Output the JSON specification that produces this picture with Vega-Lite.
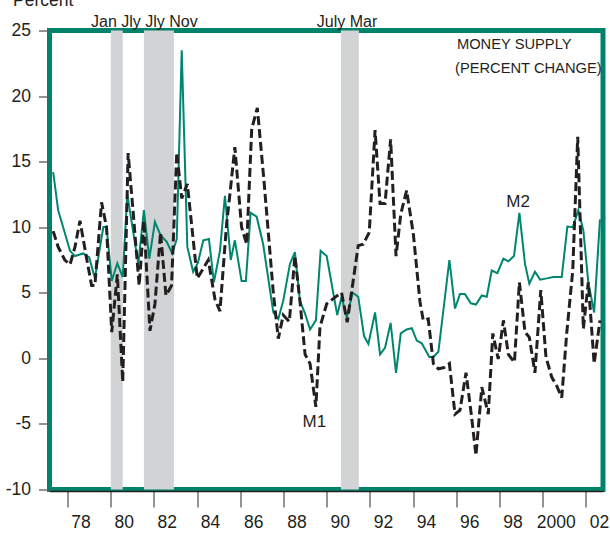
{
  "$schema": "https://vega.github.io/schema/vega-lite/v6.json",
  "autosize": {"type": "none"},
  "padding": {"left": 49.5, "top": 30.5, "right": 7, "bottom": 45.5},
  "width": 553.5,
  "height": 459,
  "background": "white",
  "config": {
    "font": "Liberation Sans, Arial, sans-serif",
    "view": {"stroke": "#00836b", "strokeWidth": 5},
    "axis": {"grid": false, "labelFont": "Liberation Sans, sans-serif", "labelColor": "#231f20", "labelFontSize": 17.5, "tickColor": "#58595b", "tickWidth": 1.3}
  },
  "datasets": {
    "recessions": [
      {"start": 1980.01, "end": 1980.56},
      {"start": 1981.54, "end": 1982.93},
      {"start": 1990.66, "end": 1991.49}
    ],
    "money": [
      {"s": "M2", "t": 1977.34, "v": 14.2},
      {"s": "M2", "t": 1977.57, "v": 11.3},
      {"s": "M2", "t": 1978.12, "v": 8.2},
      {"s": "M2", "t": 1978.35, "v": 7.8},
      {"s": "M2", "t": 1978.73, "v": 8.0},
      {"s": "M2", "t": 1979.01, "v": 7.7},
      {"s": "M2", "t": 1979.27, "v": 6.1},
      {"s": "M2", "t": 1979.66, "v": 10.0},
      {"s": "M2", "t": 1979.81, "v": 10.05},
      {"s": "M2", "t": 1980.05, "v": 5.9},
      {"s": "M2", "t": 1980.31, "v": 7.25},
      {"s": "M2", "t": 1980.56, "v": 6.2},
      {"s": "M2", "t": 1980.77, "v": 12.5},
      {"s": "M2", "t": 1981.28, "v": 7.2},
      {"s": "M2", "t": 1981.54, "v": 11.3},
      {"s": "M2", "t": 1981.79, "v": 7.6},
      {"s": "M2", "t": 1982.05, "v": 10.4},
      {"s": "M2", "t": 1982.31, "v": 9.4},
      {"s": "M2", "t": 1982.59, "v": 8.9},
      {"s": "M2", "t": 1982.85, "v": 8.0},
      {"s": "M2", "t": 1983.06, "v": 9.1},
      {"s": "M2", "t": 1983.29, "v": 23.5},
      {"s": "M2", "t": 1983.55, "v": 8.5},
      {"s": "M2", "t": 1983.82, "v": 6.6},
      {"s": "M2", "t": 1984.04, "v": 7.3},
      {"s": "M2", "t": 1984.29, "v": 9.0},
      {"s": "M2", "t": 1984.55, "v": 9.1},
      {"s": "M2", "t": 1984.78, "v": 5.8},
      {"s": "M2", "t": 1985.06, "v": 8.2},
      {"s": "M2", "t": 1985.29, "v": 12.4},
      {"s": "M2", "t": 1985.56, "v": 7.5},
      {"s": "M2", "t": 1985.75, "v": 9.0},
      {"s": "M2", "t": 1986.06, "v": 5.9},
      {"s": "M2", "t": 1986.26, "v": 5.9},
      {"s": "M2", "t": 1986.48, "v": 11.1},
      {"s": "M2", "t": 1986.76, "v": 10.8},
      {"s": "M2", "t": 1987.06, "v": 8.7},
      {"s": "M2", "t": 1987.53, "v": 3.5},
      {"s": "M2", "t": 1987.76, "v": 3.0},
      {"s": "M2", "t": 1987.99, "v": 4.4},
      {"s": "M2", "t": 1988.30, "v": 7.2},
      {"s": "M2", "t": 1988.53, "v": 8.1},
      {"s": "M2", "t": 1988.76, "v": 4.4},
      {"s": "M2", "t": 1989.00, "v": 3.4},
      {"s": "M2", "t": 1989.23, "v": 2.2},
      {"s": "M2", "t": 1989.50, "v": 2.9},
      {"s": "M2", "t": 1989.72, "v": 8.2},
      {"s": "M2", "t": 1990.00, "v": 7.8},
      {"s": "M2", "t": 1990.49, "v": 3.3},
      {"s": "M2", "t": 1990.69, "v": 4.7},
      {"s": "M2", "t": 1990.93, "v": 3.1},
      {"s": "M2", "t": 1991.20, "v": 5.0},
      {"s": "M2", "t": 1991.46, "v": 4.7},
      {"s": "M2", "t": 1991.73, "v": 1.7},
      {"s": "M2", "t": 1991.93, "v": 1.1},
      {"s": "M2", "t": 1992.24, "v": 3.5},
      {"s": "M2", "t": 1992.47, "v": 0.3},
      {"s": "M2", "t": 1992.70, "v": 0.8},
      {"s": "M2", "t": 1992.96, "v": 2.7},
      {"s": "M2", "t": 1993.21, "v": -1.1},
      {"s": "M2", "t": 1993.43, "v": 1.9},
      {"s": "M2", "t": 1993.70, "v": 2.2},
      {"s": "M2", "t": 1993.94, "v": 2.3},
      {"s": "M2", "t": 1994.17, "v": 1.35},
      {"s": "M2", "t": 1994.40, "v": 1.15},
      {"s": "M2", "t": 1994.75, "v": 0.1},
      {"s": "M2", "t": 1994.94, "v": 0.1},
      {"s": "M2", "t": 1995.17, "v": 0.5},
      {"s": "M2", "t": 1995.68, "v": 7.5},
      {"s": "M2", "t": 1995.94, "v": 3.8},
      {"s": "M2", "t": 1996.17, "v": 4.9},
      {"s": "M2", "t": 1996.40, "v": 4.9},
      {"s": "M2", "t": 1996.67, "v": 4.2},
      {"s": "M2", "t": 1996.91, "v": 4.1},
      {"s": "M2", "t": 1997.18, "v": 4.8},
      {"s": "M2", "t": 1997.41, "v": 4.7},
      {"s": "M2", "t": 1997.64, "v": 6.7},
      {"s": "M2", "t": 1997.90, "v": 6.5},
      {"s": "M2", "t": 1998.18, "v": 7.6},
      {"s": "M2", "t": 1998.41, "v": 7.4},
      {"s": "M2", "t": 1998.67, "v": 7.8},
      {"s": "M2", "t": 1998.92, "v": 11.1},
      {"s": "M2", "t": 1999.18, "v": 7.2},
      {"s": "M2", "t": 1999.38, "v": 5.7},
      {"s": "M2", "t": 1999.64, "v": 6.6},
      {"s": "M2", "t": 1999.88, "v": 6.0},
      {"s": "M2", "t": 2000.19, "v": 6.1},
      {"s": "M2", "t": 2000.49, "v": 6.2},
      {"s": "M2", "t": 2000.88, "v": 6.2},
      {"s": "M2", "t": 2001.14, "v": 10.05},
      {"s": "M2", "t": 2001.39, "v": 10.0},
      {"s": "M2", "t": 2001.65, "v": 11.3},
      {"s": "M2", "t": 2001.88, "v": 9.75},
      {"s": "M2", "t": 2002.11, "v": 5.8},
      {"s": "M2", "t": 2002.38, "v": 3.5},
      {"s": "M2", "t": 2002.65, "v": 10.6},
      {"s": "M1", "t": 1977.34, "v": 9.7},
      {"s": "M1", "t": 1977.57, "v": 8.5},
      {"s": "M1", "t": 1977.88, "v": 7.5},
      {"s": "M1", "t": 1978.12, "v": 7.15},
      {"s": "M1", "t": 1978.35, "v": 8.5},
      {"s": "M1", "t": 1978.58, "v": 10.5},
      {"s": "M1", "t": 1978.89, "v": 7.6},
      {"s": "M1", "t": 1979.12, "v": 5.55},
      {"s": "M1", "t": 1979.27, "v": 5.55},
      {"s": "M1", "t": 1979.58, "v": 11.9},
      {"s": "M1", "t": 1979.81, "v": 10.0},
      {"s": "M1", "t": 1980.05, "v": 2.0},
      {"s": "M1", "t": 1980.31, "v": 6.4},
      {"s": "M1", "t": 1980.56, "v": -1.8},
      {"s": "M1", "t": 1980.81, "v": 15.65},
      {"s": "M1", "t": 1981.06, "v": 10.8},
      {"s": "M1", "t": 1981.32, "v": 5.55},
      {"s": "M1", "t": 1981.54, "v": 10.5},
      {"s": "M1", "t": 1981.82, "v": 2.1},
      {"s": "M1", "t": 1982.05, "v": 4.15},
      {"s": "M1", "t": 1982.31, "v": 9.6},
      {"s": "M1", "t": 1982.56, "v": 4.8},
      {"s": "M1", "t": 1982.82, "v": 5.55},
      {"s": "M1", "t": 1983.06, "v": 15.7},
      {"s": "M1", "t": 1983.29, "v": 12.2},
      {"s": "M1", "t": 1983.55, "v": 13.3},
      {"s": "M1", "t": 1984.01, "v": 6.1},
      {"s": "M1", "t": 1984.27, "v": 6.8},
      {"s": "M1", "t": 1984.52, "v": 7.5},
      {"s": "M1", "t": 1984.83, "v": 4.5},
      {"s": "M1", "t": 1985.06, "v": 3.6},
      {"s": "M1", "t": 1985.37, "v": 10.3},
      {"s": "M1", "t": 1985.52, "v": 12.5},
      {"s": "M1", "t": 1985.75, "v": 16.1},
      {"s": "M1", "t": 1986.06, "v": 10.0},
      {"s": "M1", "t": 1986.30, "v": 8.7},
      {"s": "M1", "t": 1986.53, "v": 17.5},
      {"s": "M1", "t": 1986.79, "v": 19.1},
      {"s": "M1", "t": 1987.10, "v": 13.5},
      {"s": "M1", "t": 1987.53, "v": 5.0},
      {"s": "M1", "t": 1987.76, "v": 1.5},
      {"s": "M1", "t": 1987.99, "v": 3.3},
      {"s": "M1", "t": 1988.27, "v": 2.8},
      {"s": "M1", "t": 1988.53, "v": 7.8},
      {"s": "M1", "t": 1988.76, "v": 4.4},
      {"s": "M1", "t": 1989.00, "v": 0.3},
      {"s": "M1", "t": 1989.23, "v": -0.4},
      {"s": "M1", "t": 1989.50, "v": -3.7},
      {"s": "M1", "t": 1989.69, "v": 2.4},
      {"s": "M1", "t": 1990.00, "v": 4.15},
      {"s": "M1", "t": 1990.38, "v": 4.65},
      {"s": "M1", "t": 1990.69, "v": 5.0},
      {"s": "M1", "t": 1990.95, "v": 2.75},
      {"s": "M1", "t": 1991.46, "v": 8.6},
      {"s": "M1", "t": 1991.69, "v": 8.7},
      {"s": "M1", "t": 1991.97, "v": 9.6},
      {"s": "M1", "t": 1992.24, "v": 17.4},
      {"s": "M1", "t": 1992.47, "v": 11.8},
      {"s": "M1", "t": 1992.70, "v": 11.8},
      {"s": "M1", "t": 1992.96, "v": 16.7},
      {"s": "M1", "t": 1993.21, "v": 7.8},
      {"s": "M1", "t": 1993.43, "v": 11.0},
      {"s": "M1", "t": 1993.70, "v": 12.8},
      {"s": "M1", "t": 1994.01, "v": 9.5},
      {"s": "M1", "t": 1994.32, "v": 4.3},
      {"s": "M1", "t": 1994.47, "v": 2.9},
      {"s": "M1", "t": 1994.70, "v": 3.0},
      {"s": "M1", "t": 1994.94, "v": -0.4},
      {"s": "M1", "t": 1995.17, "v": -0.8},
      {"s": "M1", "t": 1995.43, "v": -0.7},
      {"s": "M1", "t": 1995.68, "v": -0.4},
      {"s": "M1", "t": 1995.94, "v": -4.25},
      {"s": "M1", "t": 1996.17, "v": -3.95},
      {"s": "M1", "t": 1996.45, "v": -1.1},
      {"s": "M1", "t": 1996.71, "v": -4.5},
      {"s": "M1", "t": 1996.91, "v": -7.4},
      {"s": "M1", "t": 1997.18, "v": -2.2},
      {"s": "M1", "t": 1997.37, "v": -3.5},
      {"s": "M1", "t": 1997.48, "v": -4.25},
      {"s": "M1", "t": 1997.69, "v": 1.9},
      {"s": "M1", "t": 1997.94, "v": -0.05},
      {"s": "M1", "t": 1998.18, "v": 2.9},
      {"s": "M1", "t": 1998.41, "v": 0.3},
      {"s": "M1", "t": 1998.69, "v": -0.3},
      {"s": "M1", "t": 1998.92, "v": 5.8},
      {"s": "M1", "t": 1999.18, "v": 2.0},
      {"s": "M1", "t": 1999.38, "v": 1.6},
      {"s": "M1", "t": 1999.64, "v": -1.1},
      {"s": "M1", "t": 1999.91, "v": 5.2},
      {"s": "M1", "t": 2000.15, "v": 0.1},
      {"s": "M1", "t": 2000.42, "v": -1.45},
      {"s": "M1", "t": 2000.65, "v": -2.1},
      {"s": "M1", "t": 2000.88, "v": -3.0},
      {"s": "M1", "t": 2001.11, "v": 1.9},
      {"s": "M1", "t": 2001.39, "v": 6.7},
      {"s": "M1", "t": 2001.62, "v": 16.9},
      {"s": "M1", "t": 2001.88, "v": 2.25},
      {"s": "M1", "t": 2002.11, "v": 5.8},
      {"s": "M1", "t": 2002.38, "v": -0.4},
      {"s": "M1", "t": 2002.65, "v": 2.9}
    ],
    "recLabels": [
      {"t": 1981.56, "v": 25.27, "label": "Jan Jly Jly Nov"},
      {"t": 1990.94, "v": 25.27, "label": "July Mar"}
    ],
    "seriesLabels": [
      {"t": 1989.43, "v": -4.86, "label": "M1"},
      {"t": 1998.86, "v": 11.96, "label": "M2"}
    ],
    "titles": [
      {"t": 1996.03, "v": 23.93, "label": "MONEY SUPPLY"},
      {"t": 1995.94, "v": 22.1, "label": "(PERCENT CHANGE)"}
    ]
  },
  "layer": [
    {
      "data": {"name": "recessions"},
      "mark": {"type": "rect", "color": "#d1d3d4"},
      "encoding": {
        "x": {
          "field": "start", "type": "quantitative",
          "scale": {"domain": [1977.17, 2002.79], "nice": false, "zero": false},
          "axis": {
            "title": null,
            "values": [1978, 1979, 1980, 1981, 1982, 1983, 1984, 1985, 1986, 1987, 1988, 1989, 1990, 1991, 1992, 1993, 1994, 1995, 1996, 1997, 1998, 1999, 2000, 2001, 2002],
            "labelExpr": "datum.value == 2000 ? '2000' : (datum.value % 2 == 0 ? substring(toString(datum.value), 2, 4) : '')",
            "labelOffset": 13,
            "labelOverlap": false,
            "labelFlush": false,
            "labelBound": false,
            "tickSize": 16,
            "labelPadding": 6,
            "offset": 1.5,
            "domainColor": "#231f20",
            "domainWidth": 1.5,
            "zindex": 1
          }
        },
        "x2": {"field": "end"}
      }
    },
    {
      "mark": {"type": "rule", "color": "#6d6e71", "strokeWidth": 1.5},
      "encoding": {
        "y": {
          "datum": 0, "type": "quantitative",
          "scale": {"domain": [-10, 25], "nice": false, "zero": false},
          "axis": {
            "title": "Percent",
            "titleAngle": 0,
            "titleAlign": "left",
            "titleBaseline": "alphabetic",
            "titleX": -37,
            "titleY": -25,
            "titleFontSize": 17.5,
            "titleFontWeight": "normal",
            "titleColor": "#231f20",
            "titleFont": "Liberation Sans, sans-serif",
            "values": [-10, -5, 0, 5, 10, 15, 20, 25],
            "labelExpr": "toString(datum.value)",
            "domain": false,
            "tickSize": 11,
            "labelPadding": 8
          }
        }
      }
    },
    {
      "data": {"name": "money"},
      "transform": [{"filter": "datum.s == 'M2'"}],
      "mark": {"type": "line", "color": "#00866e", "strokeWidth": 2},
      "encoding": {
        "x": {"field": "t", "type": "quantitative"},
        "y": {"field": "v", "type": "quantitative"}
      }
    },
    {
      "data": {"name": "money"},
      "transform": [{"filter": "datum.s == 'M1'"}],
      "mark": {"type": "line", "color": "#231f20", "strokeWidth": 3, "strokeDash": [9, 4]},
      "encoding": {
        "x": {"field": "t", "type": "quantitative"},
        "y": {"field": "v", "type": "quantitative"}
      }
    },
    {
      "data": {"name": "recLabels"},
      "mark": {"type": "text", "fontSize": 16, "color": "#231f20", "align": "center", "baseline": "alphabetic"},
      "encoding": {
        "x": {"field": "t", "type": "quantitative"},
        "y": {"field": "v", "type": "quantitative"},
        "text": {"field": "label"}
      }
    },
    {
      "data": {"name": "seriesLabels"},
      "mark": {"type": "text", "fontSize": 17, "color": "#231f20", "align": "center", "baseline": "middle"},
      "encoding": {
        "x": {"field": "t", "type": "quantitative"},
        "y": {"field": "v", "type": "quantitative"},
        "text": {"field": "label"}
      }
    },
    {
      "data": {"name": "titles"},
      "mark": {"type": "text", "fontSize": 14.7, "color": "#231f20", "align": "left", "baseline": "middle"},
      "encoding": {
        "x": {"field": "t", "type": "quantitative"},
        "y": {"field": "v", "type": "quantitative"},
        "text": {"field": "label"}
      }
    }
  ]
}
